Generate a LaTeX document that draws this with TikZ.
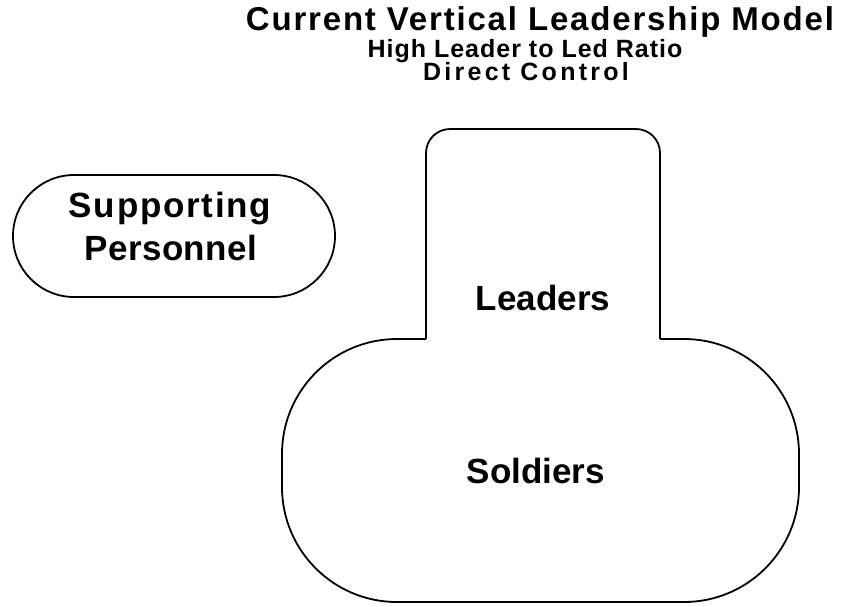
\documentclass[tikz,border=0pt]{standalone}
\usepackage{fontspec}
\setmainfont{Liberation Sans}
\usepackage{tikz}
\newcommand{\ls}[3]{{\fontsize{#1}{#1}\selectfont\addfontfeature{LetterSpace=#2}#3}}

\begin{document}
\begin{tikzpicture}[x=1pt, y=-1pt, line width=1.8pt,
  txt/.style={inner sep=0pt, anchor=base, font=\bfseries}]
\useasboundingbox (0,0) rectangle (843,606);
% заголовок
\node [txt] (title) at (540,30) {\ls{33}{5.5}{Current Vertical Leadership Model}};
\node [txt] (ratio) at (525,57) {\ls{25}{4}{High Leader to Led Ratio}};
\node [txt] (ctrl) at (526,80) {\ls{25}{13}{Direct Control}};
% контуры
\draw [rounded corners=24] (426,339) -- (426,129) -- (660,129) -- (660,339);
\draw [rounded corners=115] (660,339) -- (799,339) -- (799,602) -- (282,602) -- (282,339) -- (426,339);
\node [draw, rounded corners=61, minimum width=322pt, minimum height=122pt] (pill) at (174,236) {};
% подписи
\node [txt] (supp) at (170,217) {\ls{35}{5}{Supporting}};
\node [txt] (pers) at (171,260) {\ls{35}{1}{Personnel}};
\node [txt] (lead) at (543,310) {\ls{35}{0}{Leaders}};
\node [txt] (sold) at (536,483) {\ls{35}{0}{Soldiers}};
\end{tikzpicture}
\end{document}
